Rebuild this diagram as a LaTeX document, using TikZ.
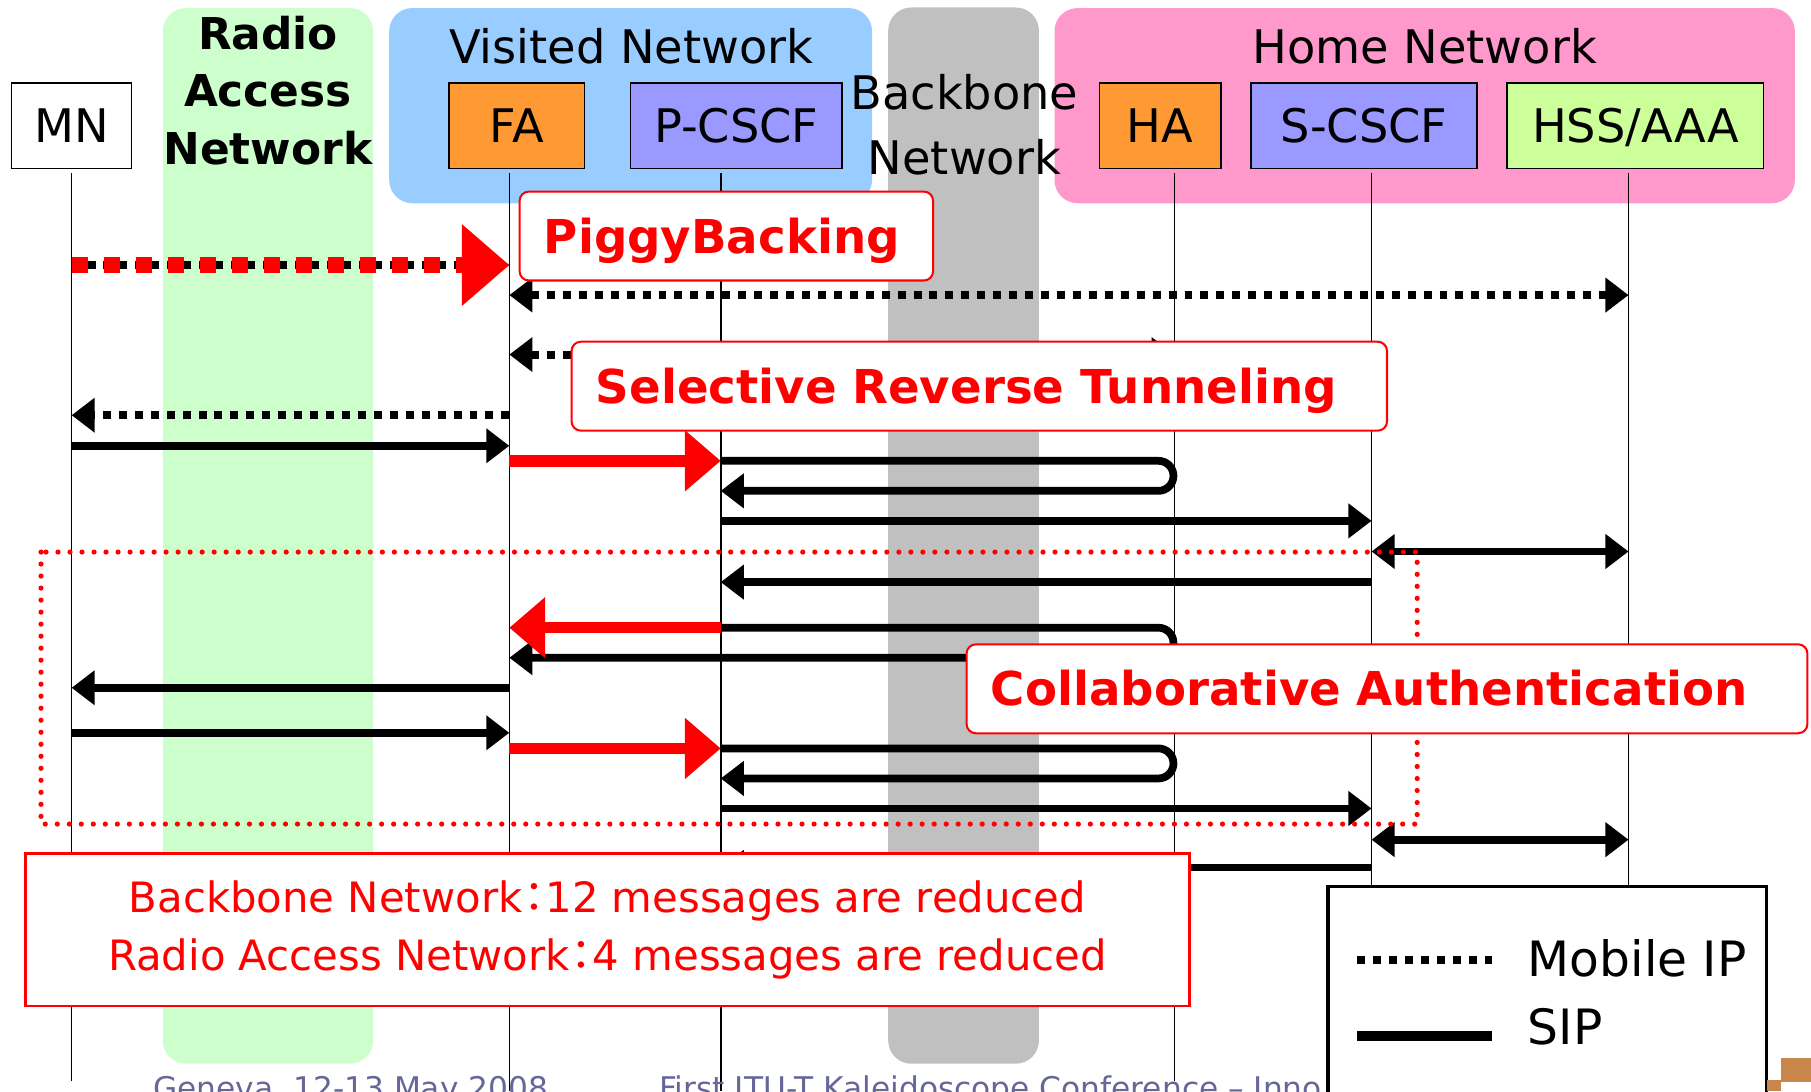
\documentclass[tikz,border=0pt]{standalone}
\usepackage{fontspec}
\setmainfont{DejaVu Sans}
\newfontfamily\cjkfont{Noto Sans CJK JP}
\usetikzlibrary{arrows.meta}
\definecolor{ranGreen}{HTML}{CCFFCC}
\definecolor{visBlue}{HTML}{99CCFF}
\definecolor{bbGray}{HTML}{C0C0C0}
\definecolor{homePink}{HTML}{FF99CC}
\definecolor{agentOrange}{HTML}{FF9933}
\definecolor{cscfViolet}{HTML}{9999FF}
\definecolor{hssLime}{HTML}{CCFF99}
\definecolor{footBlue}{HTML}{666699}
\definecolor{slideBrown}{HTML}{C8864A}
\newcommand{\cjkcolon}{\makebox[0.55em]{\cjkfont ：}}

\begin{document}
\begin{tikzpicture}[
  ent/.style={draw=black, line width=0.4pt, minimum height=0.74cm, inner sep=0pt,
    text height=8.3pt, text depth=0pt, font=\fontsize{11.4pt}{13pt}\selectfont},
  life/.style={line width=0.4pt},
  mip/.style={line width=0.069cm, dash pattern=on 0.069cm off 0.069cm},
  sip/.style={line width=0.067cm},
  gain/.style={red, line width=0.10cm},
  msgtip/.style={-{Triangle[length=0.2cm,width=0.29cm]}},
  msgtips/.style={{Triangle[length=0.2cm,width=0.29cm]}-{Triangle[length=0.2cm,width=0.29cm]}},
  gaintip/.style={-{Triangle[length=0.31cm,width=0.51cm]}},
  feature/.style={draw=red, fill=white, line width=0.5pt, rounded corners=0.08cm,
    text=red, font=\bfseries\fontsize{11.5pt}{14pt}\selectfont, anchor=north west,
    minimum height=0.77cm, inner xsep=0.21cm, inner ysep=0pt,
    text height=8.4pt, text depth=0pt, align=left},
]
  \useasboundingbox (0,0) rectangle (15.68,-9.45);
  \clip (0,0) rectangle (15.68,-9.45);
  % network domains
  \fill[ranGreen, rounded corners=0.2cm] (1.41,-0.07) rectangle (3.23,-9.21);
  \fill[visBlue, rounded corners=0.2cm] (3.37,-0.07) rectangle (7.55,-1.76);
  \fill[bbGray, rounded corners=0.2cm] (7.69,-0.065) rectangle (8.995,-9.21);
  \fill[homePink, rounded corners=0.2cm] (9.13,-0.07) rectangle (15.54,-1.76);
  \node[font=\bfseries\fontsize{10.8pt}{14.1pt}\selectfont, align=center] (ranLbl)
    at (2.32,-0.785) {Radio\\Access\\Network};
  \node[font=\fontsize{11.4pt}{15.9pt}\selectfont, align=center] (bbLbl)
    at (8.35,-1.08) {Backbone\\Network};
  \node[anchor=base, font=\fontsize{11.4pt}{13pt}\selectfont] (visLbl)
    at (5.465,-0.546) {Visited Network};
  \node[anchor=base, font=\fontsize{11.4pt}{13pt}\selectfont] (homeLbl)
    at (12.335,-0.546) {Home Network};
  % entities
  \node[ent, fill=white, minimum width=1.04cm] (mn) at (0.62,-1.09) {MN};
  \node[ent, fill=agentOrange, minimum width=1.17cm] (fa) at (4.475,-1.09) {FA};
  \node[ent, fill=cscfViolet, minimum width=1.83cm] (pcscf) at (6.375,-1.09) {P-CSCF};
  \node[ent, fill=agentOrange, minimum width=1.05cm] (ha) at (10.045,-1.09) {HA};
  \node[ent, fill=cscfViolet, minimum width=1.96cm] (scscf) at (11.81,-1.09) {S-CSCF};
  \node[ent, fill=hssLime, minimum width=2.22cm] (hss) at (14.16,-1.09) {HSS/AAA};
  % lifelines
  \coordinate (mnL) at (0.62,-1.50);
  \coordinate (faL) at (4.41,-1.50);
  \coordinate (pcL) at (6.24,-1.50);
  \coordinate (haL) at (10.17,-1.50);
  \coordinate (haTurn) at (10.03,-1.50);
  \coordinate (scL) at (11.875,-1.50);
  \coordinate (hssL) at (14.10,-1.50);
  \draw[life] (mnL) -- (mnL |- 0,-9.36);
  \draw[life] (faL) -- (faL |- 0,-9.45);
  \draw[life] (pcL) -- (pcL |- 0,-9.45);
  \draw[life] (haL) -- (haL |- 0,-9.36);
  \draw[life] (scL) -- (scL |- 0,-7.70);
  \draw[life] (hssL) -- (hssL |- 0,-7.70);
  % footer of the slide
  \node[anchor=base west, inner sep=0pt, text=footBlue, font=\fontsize{7.7pt}{9pt}\selectfont]
    (dateLbl) at (1.32,-9.517) {Geneva, 12-13 May 2008};
  \node[anchor=base west, inner sep=0pt, text=footBlue, font=\fontsize{7.7pt}{9pt}\selectfont]
    (confLbl) at (5.70,-9.517) {First ITU-T Kaleidoscope Conference – Inno};
  % Mobile IP registration
  \draw[mip, msgtip] (mnL |- 0,-2.295) -- (faL |- 0,-2.295);
  \draw[red, line width=0.1385cm, dash pattern=on 0.1385cm off 0.1385cm,
    -{Triangle[length=0.41cm,width=0.68cm]}] (mnL |- 0,-2.295) -- (faL |- 0,-2.295);
  \draw[mip, msgtips] (faL |- 0,-2.555) -- (hssL |- 0,-2.555);
  \draw[mip, msgtips] (faL |- 0,-3.07) -- (haL |- 0,-3.07);
  \draw[mip, msgtip] (faL |- 0,-3.595) -- (mnL |- 0,-3.595);
  % SIP registration
  \draw[sip, msgtip] (mnL |- 0,-3.86) -- (faL |- 0,-3.86);
  \draw[gain, gaintip] (faL |- 0,-3.99) -- (pcL |- 0,-3.99);
  \draw[sip, msgtip] (pcL |- 0,-3.99) -- (haTurn |- 0,-3.99)
    arc[start angle=90, end angle=-90, radius=0.13cm] -- (pcL |- 0,-4.25);
  \draw[sip, msgtip] (pcL |- 0,-4.51) -- (scL |- 0,-4.51);
  \draw[sip, msgtips] (scL |- 0,-4.775) -- (hssL |- 0,-4.775);
  \draw[sip, msgtip] (scL |- 0,-5.04) -- (pcL |- 0,-5.04);
  \draw[sip, msgtip] (pcL |- 0,-5.435) -- (haTurn |- 0,-5.435)
    arc[start angle=90, end angle=-90, radius=0.13cm] -- (faL |- 0,-5.695);
  \draw[gain, gaintip] (pcL |- 0,-5.435) -- (faL |- 0,-5.435);
  \draw[sip, msgtip] (faL |- 0,-5.955) -- (mnL |- 0,-5.955);
  \draw[sip, msgtip] (mnL |- 0,-6.345) -- (faL |- 0,-6.345);
  \draw[gain, gaintip] (faL |- 0,-6.48) -- (pcL |- 0,-6.48);
  \draw[sip, msgtip] (pcL |- 0,-6.48) -- (haTurn |- 0,-6.48)
    arc[start angle=90, end angle=-90, radius=0.13cm] -- (pcL |- 0,-6.74);
  \draw[sip, msgtip] (pcL |- 0,-7.00) -- (scL |- 0,-7.00);
  \draw[sip, msgtips] (scL |- 0,-7.27) -- (hssL |- 0,-7.27);
  \draw[sip, msgtip] (scL |- 0,-7.51) -- (pcL |- 0,-7.51);
  % collaborative authentication region
  \draw[red, line width=0.045cm, line cap=round, dash pattern=on 0pt off 0.104cm]
    (0.355,-4.78) rectangle (12.27,-7.135);
  % optimisations
  \node[feature, text width=3.16cm] (piggy) at (4.49,-1.65) {PiggyBacking};
  \node[feature, text width=6.64cm] (srt) at (4.94,-2.95) {Selective Reverse Tunneling};
  \node[feature, text width=6.86cm] (collab) at (8.36,-5.57) {Collaborative Authentication};
  % result
  \node[draw=red, fill=white, line width=0.6pt, text=red, align=center,
    minimum width=10.08cm, minimum height=1.32cm,
    font=\fontsize{10.3pt}{14.2pt}\selectfont] (saving) at (5.26,-8.05)
    {Backbone Network\cjkcolon 12 messages are reduced\\
     Radio Access Network\cjkcolon 4 messages are reduced};
  % legend
  \node[draw=black, fill=white, line width=0.031cm, anchor=north west,
    minimum width=3.8cm, minimum height=2.0cm] (legend) at (11.48,-7.66) {};
  \draw[mip] (11.75,-8.31) -- (12.92,-8.31);
  \draw[line width=0.08cm] (11.75,-8.97) -- (12.92,-8.97);
  \node[anchor=west, inner sep=0pt, text height=8.75pt, text depth=0pt,
    font=\fontsize{12pt}{14pt}\selectfont] (mipKey) at (13.22,-8.30) {Mobile IP};
  \node[anchor=west, inner sep=0pt, text height=8.75pt, text depth=0pt,
    font=\fontsize{12pt}{14pt}\selectfont] (sipKey) at (13.22,-8.89) {SIP};
  % slide corner
  \fill[slideBrown] (15.42,-9.157) rectangle (15.68,-9.365);
  \fill[slideBrown] (15.296,-9.35) rectangle (15.42,-9.45);
\end{tikzpicture}
\end{document}
